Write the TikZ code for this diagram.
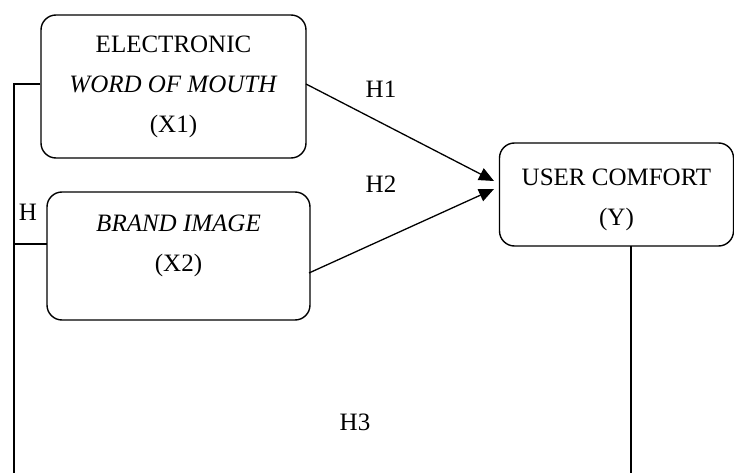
\documentclass[tikz,border=0pt]{standalone}
\usepackage{fontspec}
\setmainfont{Liberation Serif}
\usetikzlibrary{arrows.meta,calc}
\tikzset{
  boxnode/.style={draw, line width=1.4pt, rounded corners=15pt, inner sep=0pt},
  txt/.style={font=\fontsize{25}{40}\selectfont, align=center, inner sep=0pt},
  lbl/.style={font=\fontsize{25}{28}\selectfont, inner sep=0pt},
  conn/.style={line width=1.3pt},
  arr/.style={conn, -{Triangle[length=15pt,width=13pt]}}
}
\begin{document}
\begin{tikzpicture}[x=1pt,y=-1pt]
\useasboundingbox (0,0) rectangle (734,473);
% boxes
\node[boxnode, minimum width=265pt, minimum height=143pt] (x1) at (173.5,86.5) {};
\node[txt] (x1t) at (173.5,87) {ELECTRONIC\\\textit{WORD OF MOUTH}\\(X1)};
\node[boxnode, minimum width=263pt, minimum height=128pt] (x2) at (178.5,256) {};
\node[txt] (x2t) at (178.5,246) {\textit{BRAND IMAGE}\\(X2)};
\node[boxnode, minimum width=234pt, minimum height=103pt] (y) at (616.5,194.5) {};
\node[txt] (yt) at (616.5,200) {USER COMFORT\\(Y)};
% connector points
\coordinate (s1) at (306,84);
\coordinate (s2) at (309,273);
\coordinate (t1) at (494,181);
\coordinate (t2) at (494,189);
\coordinate (l1) at (14,84);
\coordinate (l2) at (14,244);
\coordinate (l3) at (14,473);
\coordinate (x2w) at (47,244);
\coordinate (yb) at (631,246);
\coordinate (ye) at (631,473);
% connectors
\draw[arr] (s1) -- (t1);
\draw[arr] (s2) -- (t2);
\draw[conn] (x1.west |- s1) -- (l1) -- (l3);
\draw[conn] (l2) -- (x2w);
\draw[conn] (yb) -- (ye);
% labels
\node[lbl] (h1) at (381,89) {H1};
\node[lbl] (h2) at (381,184) {H2};
\node[lbl] (h) at (28,212) {H};
\node[lbl] (h3) at (355,422) {H3};
\end{tikzpicture}
\end{document}
